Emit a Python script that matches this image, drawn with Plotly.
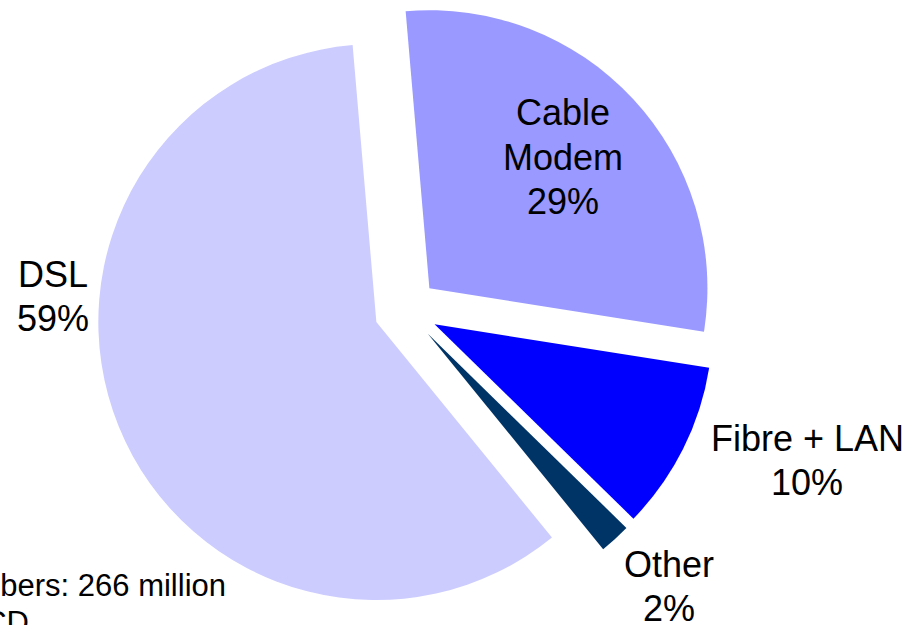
import plotly.graph_objects as go

# Data
categories = ["Cable Modem", "Fibre + LAN", "Other", "DSL"]
label_lines = [["Cable", "Modem"], ["Fibre + LAN"], ["Other"], ["DSL"]]
shares = [28.8, 9.8, 1.8, 59.4]          # slice shares
shown_pct = [29, 10, 2, 59]              # percentages printed on the chart
colors = ["#9999FF", "#0000FF", "#003366", "#CCCCFF"]
pulls = [0.115, 0.115, 0.115, 0.115]
footnote_lines = ["Total subscribers: 266 million", "Source: OECD"]

W, H = 918, 625

fig = go.Figure(go.Pie(
    labels=categories,
    values=shares,
    sort=False,
    direction="clockwise",
    rotation=-4.9,
    pull=pulls,
    marker=dict(colors=colors, line=dict(width=0)),
    textinfo="none",
    hoverinfo="label+percent",
    showlegend=False,
    domain=dict(x=[96 / W, 716 / W], y=[5 / H, 1.0]),
))

# label block centres (pixels) and line spacing – style only
label_pos = [(563, 157), (807, 460.5), (669, 586.5), (53, 296)]
line_gap = 44
font = dict(family="Liberation Sans, Arial, sans-serif", size=36, color="#000000")
annotations = []
for lines, pct, (px, py) in zip(label_lines, shown_pct, label_pos):
    all_lines = lines + [f"{pct}%"]
    n = len(all_lines)
    for i, txt in enumerate(all_lines):
        ly = py + (i - (n - 1) / 2) * line_gap
        annotations.append(dict(
            x=px / W, y=1 - ly / H, xref="paper", yref="paper",
            text=txt, showarrow=False, font=font,
            xanchor="center", yanchor="middle", align="center",
        ))

foot_font = dict(family="Liberation Sans, Arial, sans-serif", size=31, color="#000000")
annotations.append(dict(x=228 / W, y=1 - 595 / H, xref="paper", yref="paper",
                        text=footnote_lines[0], showarrow=False, font=foot_font,
                        xanchor="right", yanchor="bottom", yshift=-10))
annotations.append(dict(x=31 / W, y=1 - 632 / H, xref="paper", yref="paper",
                        text=footnote_lines[1], showarrow=False, font=foot_font,
                        xanchor="right", yanchor="bottom", yshift=-10))

fig.update_layout(
    width=W, height=H,
    margin=dict(l=0, r=0, t=0, b=0),
    paper_bgcolor="#FFFFFF",
    plot_bgcolor="#FFFFFF",
    annotations=annotations,
)

fig.write_html("out.html",
               config={"displayModeBar": False},
               post_script="document.body.style.margin='0px';document.body.style.overflow='hidden';")
